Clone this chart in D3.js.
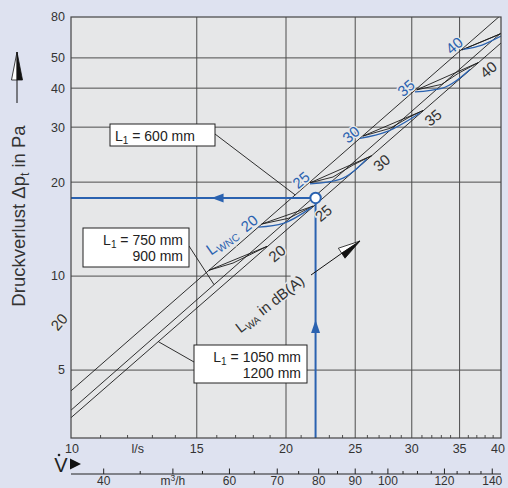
<!DOCTYPE html>
<html><head><meta charset="utf-8">
<script src="https://cdn.jsdelivr.net/npm/d3@7"></script>
<style>
html,body{margin:0;padding:0;background:#dee2f0;}
svg{display:block;font-family:"Liberation Sans",Arial,Helvetica,sans-serif;}
</style></head><body>
<svg id="c" width="508" height="488"></svg>
<script>
// ---------- data ----------
const flowDomain = [10, 40];             // l/s
const paDomain = [3.03, 67.6];           // Pa (visible range)
const flowTicks = [10, 15, 20, 25, 30, 35, 40];
const flowTickLabels = ["10", "15", "20", "25", "30", "35", "40"];
const flowMinor = [11,12,13,14,16,17,18,19,21,22,23,24,26,27,28,29,31,32,33,34,36,37,38,39];
const flowUnitAt = 12.4;
const flowUnit = "l/s";
const m3hMajor = [40, 50, 60, 70, 80, 90, 100, 120, 140];
const m3hLabels = ["40", "m³/h", "60", "70", "80", "90", "100", "120", "140"];
const m3hMinor = [45, 55, 65, 75, 85, 95, 105, 110, 115, 125, 130, 135];
const paTicks = [5, 10, 20, 30, 40, 50];
const paTickLabels = ["5", "10", "20", "30", "40", "50"];
const paTopLabel = "80";

// pressure-loss lines [l/s, Pa]
const line600 = [[10, 4.29], [40, 68.6]];
const line750 = [[10, 3.72], [40, 60.1]];
const line1050 = [[10, 3.52], [40, 55.8]];

// sound power isolines [l/s, Pa]
const waLevels = ["20", "25", "30", "35", "40"];
const waCurves = [
  [[15.6, 10.44], [16.86, 11.01], [18.81, 12.45]],
  [[18.49, 14.68], [20.15, 15.31], [21.84, 16.77]],
  [[21.61, 19.9], [23.27, 20.77], [24.82, 22.68], [26.36, 24.3]],
  [[25.64, 28.1], [27.97, 29.74], [29.83, 32.39], [31.11, 33.9]],
  [[30.48, 39.5], [33.04, 41.14], [34.86, 44.62], [37.18, 48.3]]
];
const waCurveTop = [[35.24, 53.0], [38.61, 57.78], [40, 59.84]];
const wncLevels = ["20", "25", "30", "35", "40"];
const wncCurves = [
  [[18.29, 14.35], [19.83, 14.76], [21.73, 16.6]],
  [[21.61, 19.73], [23.8, 20.42], [25.94, 23.69]],
  [[25.39, 27.6], [27.67, 29.01], [30.81, 33.3]],
  [[30.31, 38.9], [33.04, 39.94], [36.2, 45.9]],
  [[35.42, 53.2], [37.63, 54.98], [40, 58.75]]
];

// example reading
const exampleFlow = 22;
const examplePa = 17.8;

// grid
const gridV = [15, 20, 25, 30, 35];
const gridH = [5, 10, 20, 30, 40, 50];
const gridH10End = 20.3;

// ---------- drawing ----------
const L = 71, R = 501, T = 17, B = 438;
const BG = "#e6e7e8", INK = "#333", GRID = "#4d4d4d", BLUE = "#2a62b0";
const svg = d3.select("#c");
const x = d3.scaleLog().domain(flowDomain).range([L, R]);
const y = d3.scaleLog().domain(paDomain).range([B, T]);
const xm = d3.scaleLog().domain([flowDomain[0] * 3.6, flowDomain[1] * 3.6]).range([L, R]);
const line = d3.line().x(d => x(d[0])).y(d => y(d[1]));
function onLine(ln, V) {
  const [[v0, p0], [v1, p1]] = ln;
  const t = Math.log(V / v0) / Math.log(v1 / v0);
  return p0 * Math.pow(p1 / p0, t);
}

svg.append("rect").attr("width", 508).attr("height", 488).attr("fill", "#dee2f0");
svg.append("rect").attr("x", L).attr("y", T).attr("width", R - L).attr("height", B - T).attr("fill", BG);

svg.append("defs").append("clipPath").attr("id", "pc")
  .append("rect").attr("x", L).attr("y", T).attr("width", R - L).attr("height", B - T);

const grid = svg.append("g").attr("stroke", GRID).attr("stroke-width", 1).attr("fill", "none");
gridV.forEach(v => grid.append("line").attr("x1", x(v)).attr("x2", x(v)).attr("y1", T).attr("y2", B));
gridH.forEach(p => grid.append("line").attr("y1", y(p)).attr("y2", y(p))
  .attr("x1", L).attr("x2", p === 10 ? x(gridH10End) : R));

// minor ticks on flow axis
const tk = svg.append("g").attr("stroke", GRID).attr("stroke-width", 1);
flowMinor.forEach(v => tk.append("line").attr("x1", x(v)).attr("x2", x(v)).attr("y1", B).attr("y2", B - 3));

const plot = svg.append("g").attr("clip-path", "url(#pc)");
// pressure lines
[line600, line750, line1050].forEach(ln =>
  plot.append("path").attr("d", line(ln)).attr("fill", "none").attr("stroke", "#1a1a1a").attr("stroke-width", 0.9));

// L_WA isolines (black, with chord)
waCurves.concat([waCurveTop]).forEach(c => {
  plot.append("path").attr("d", line(c)).attr("fill", "none").attr("stroke", "#1a1a1a").attr("stroke-width", 0.9);
  plot.append("path").attr("d", line([c[0], c[c.length - 1]])).attr("fill", "none").attr("stroke", "#1a1a1a").attr("stroke-width", 0.9);
});
// L_WNC isolines (blue)
const curve = d3.line().x(d => x(d[0])).y(d => y(d[1])).curve(d3.curveMonotoneX);
wncCurves.forEach(c =>
  plot.append("path").attr("d", curve(c)).attr("fill", "none").attr("stroke", BLUE).attr("stroke-width", 1.3));

// example reading lines
const ex = x(exampleFlow), ey = y(examplePa);
svg.append("line").attr("x1", L).attr("x2", ex - 5).attr("y1", ey).attr("y2", ey).attr("stroke", BLUE).attr("stroke-width", 2);
svg.append("line").attr("x1", ex).attr("x2", ex).attr("y1", ey + 5).attr("y2", B).attr("stroke", BLUE).attr("stroke-width", 2);
svg.append("path").attr("d", `M${ex - 104},${ey} l12,-4.5 l0,9 z`).attr("fill", BLUE);
svg.append("path").attr("d", `M${ex},${ey + 122} l-4.5,13 l9,0 z`).attr("fill", BLUE);
svg.append("circle").attr("cx", ex).attr("cy", ey).attr("r", 5.2).attr("fill", "#fff").attr("stroke", BLUE).attr("stroke-width", 2);

// level labels
function rotLabel(cx, cy, txt, color, ang, size) {
  return svg.append("text").attr("transform", `translate(${cx},${cy}) rotate(${ang})`)
    .attr("text-anchor", "middle").attr("dy", "0.36em").attr("font-size", size).attr("fill", color)
    .attr("stroke", BG).attr("stroke-width", 3).attr("paint-order", "stroke").text(txt);
}
wncCurves.forEach((c, i) => rotLabel(x(c[0][0]) - 9, y(c[0][1]) - 4, wncLevels[i], BLUE, -40, 15));
waCurves.forEach((c, i) => {
  const e = c[c.length - 1];
  rotLabel(x(e[0]) + 10, y(e[1]) + 7, waLevels[i], INK, -40, 15);
});
rotLabel(59, 322, "20", INK, -50, 15);

// L_WNC label
const lw = svg.append("text").attr("transform", "translate(225,246) rotate(-35)").attr("text-anchor", "middle")
  .attr("font-size", 16).attr("fill", BLUE).attr("stroke", BG).attr("stroke-width", 3).attr("paint-order", "stroke");
lw.append("tspan").text("L");
lw.append("tspan").attr("font-size", 10.5).attr("dy", 3).text("WNC");

// L_WA label
const la = svg.append("text").attr("transform", "translate(273,308) rotate(-38)").attr("text-anchor", "middle")
  .attr("font-size", 15).attr("fill", INK).attr("stroke", BG).attr("stroke-width", 3).attr("paint-order", "stroke");
la.append("tspan").text("L");
la.append("tspan").attr("font-size", 10).attr("dy", 3).text("WA");
la.append("tspan").attr("dy", -3).text(" in dB(A)");

// two-tone arrow head
function arrowHead(tx, ty, dx, dy, len, hw) {
  const n = Math.hypot(dx, dy); dx /= n; dy /= n;
  const bx = tx - dx * len, by = ty - dy * len;
  const px = -dy, py = dx; // right-hand side
  svg.append("path").attr("d", `M${tx},${ty}L${bx - px * hw},${by - py * hw}L${bx},${by}Z`)
    .attr("fill", "#fff").attr("stroke", "#111").attr("stroke-width", 0.8).attr("stroke-linejoin", "round");
  svg.append("path").attr("d", `M${tx},${ty}L${bx + px * hw},${by + py * hw}L${bx},${by}Z`)
    .attr("fill", "#111").attr("stroke", "#111").attr("stroke-width", 0.8).attr("stroke-linejoin", "round");
}
svg.append("line").attr("x1", 311).attr("y1", 275).attr("x2", 345).attr("y2", 251).attr("stroke", "#111").attr("stroke-width", 1);
arrowHead(360, 241, 42, -28, 22, 6);

// boxes
function box(bx, by, w, h, lines, align) {
  svg.append("rect").attr("x", bx).attr("y", by).attr("width", w).attr("height", h)
    .attr("fill", "#fff").attr("stroke", "#222").attr("stroke-width", 1);
  lines.forEach((ln, i) => {
    const t = svg.append("text").attr("font-size", 14).attr("fill", "#222")
      .attr("x", align === "end" ? bx + w - 6 : bx + 5).attr("y", by + 17 + i * 15.5)
      .attr("text-anchor", align === "end" ? "end" : "start");
    if (ln.sub) {
      t.append("tspan").text("L");
      t.append("tspan").attr("font-size", 10).attr("dy", 3).text("1");
      t.append("tspan").attr("dy", -3).text(ln.text);
    } else t.text(ln.text);
  });
}
function leader(x1, y1, ln, V) {
  svg.append("line").attr("x1", x1).attr("y1", y1).attr("x2", x(V)).attr("y2", y(onLine(ln, V)))
    .attr("stroke", "#1a1a1a").attr("stroke-width", 0.9);
}
leader(215, 134, line600, 20.6);
leader(189, 246, line750, 15.86);
leader(194, 362, line1050, 13.25);
box(110, 124, 105, 22, [{ sub: true, text: " = 600 mm" }], "start");
box(83, 228, 106, 39, [{ sub: true, text: " = 750 mm" }, { text: "900 mm" }], "end");
box(194, 345, 113, 38, [{ sub: true, text: " = 1050 mm" }, { text: "1200 mm" }], "end");

// frame
svg.append("rect").attr("x", L).attr("y", T).attr("width", R - L).attr("height", B - T)
  .attr("fill", "none").attr("stroke", "#444").attr("stroke-width", 1.2);

// y tick labels
const yl = svg.append("g").attr("font-size", 12.5).attr("fill", INK).attr("text-anchor", "end");
paTicks.forEach((p, i) => yl.append("text").attr("x", 65).attr("y", y(p)).attr("dy", "0.35em").text(paTickLabels[i]));
yl.append("text").attr("x", 65).attr("y", T).attr("dy", "0.35em").text(paTopLabel);

// x tick labels (l/s)
const xl = svg.append("g").attr("font-size", 12.5).attr("fill", INK).attr("text-anchor", "middle");
flowTicks.forEach((v, i) => xl.append("text").attr("x", v === 40 ? x(v) - 3 : x(v) + (v === 10 ? 1 : 0)).attr("y", 453).text(flowTickLabels[i]));
xl.append("text").attr("x", x(flowUnitAt)).attr("y", 453).text(flowUnit);

// m3/h axis
const m = svg.append("g");
m.append("line").attr("x1", L).attr("x2", R).attr("y1", 474).attr("y2", 474).attr("stroke", "#222").attr("stroke-width", 1.2);
m3hMajor.forEach(v => m.append("line").attr("x1", xm(v)).attr("x2", xm(v)).attr("y1", 474).attr("y2", 468.5).attr("stroke", "#222"));
m3hMinor.forEach(v => m.append("line").attr("x1", xm(v)).attr("x2", xm(v)).attr("y1", 474).attr("y2", 471).attr("stroke", "#222"));
m3hMajor.forEach((v, i) => {
  const t = m.append("text").attr("x", xm(v)).attr("y", 485).attr("text-anchor", "middle").attr("font-size", 12).attr("fill", INK);
  if (m3hLabels[i] === "m³/h") {
    t.append("tspan").text("m");
    t.append("tspan").attr("font-size", 8.5).attr("dy", -4.5).text("3");
    t.append("tspan").attr("dy", 4.5).text("/h");
  } else t.text(m3hLabels[i]);
});

// V-dot symbol
svg.append("text").attr("x", 61).attr("y", 472).attr("text-anchor", "middle").attr("font-size", 20).attr("fill", "#222").text("V");
svg.append("circle").attr("cx", 59).attr("cy", 455).attr("r", 1.3).attr("fill", "#222");
svg.append("path").attr("d", "M70,458.5 L81,464 L70,469.5 Z").attr("fill", "#111");

// y-axis title and arrow
const yt = svg.append("text").attr("transform", "translate(25,216) rotate(-90)").attr("text-anchor", "middle")
  .attr("font-size", 18.5).attr("fill", INK);
yt.append("tspan").text("Druckverlust Δp");
yt.append("tspan").attr("font-size", 12).attr("dy", 4).text("t");
yt.append("tspan").attr("dy", -4).text(" in Pa");
svg.append("line").attr("x1", 17).attr("x2", 17).attr("y1", 103).attr("y2", 78).attr("stroke", "#111").attr("stroke-width", 1);
arrowHead(17, 52, 0, -1, 28, 5.5);
</script>
</body></html>
